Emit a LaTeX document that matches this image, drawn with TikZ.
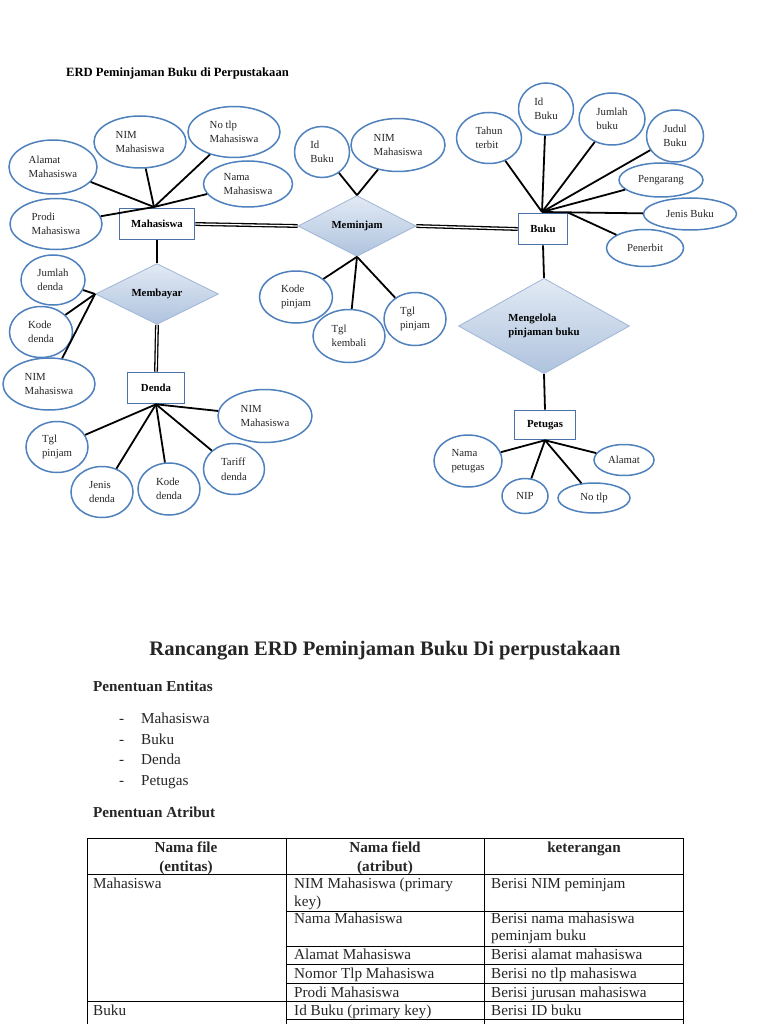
\documentclass[tikz,border=0pt]{standalone}
\usepackage{fontspec}
\setmainfont{Liberation Serif}
\usepackage{xcolor}
\usetikzlibrary{shapes.geometric}

\definecolor{attrblue}{HTML}{4F81BD}
\definecolor{boxblue}{HTML}{4A72A8}
\definecolor{reltop}{HTML}{E2EAF4}
\definecolor{relbot}{HTML}{AFC3DE}
\definecolor{reledge}{HTML}{9FB6D6}
\definecolor{txtgray}{HTML}{262626}

\newcommand{\lblfont}{\fontsize{10.8}{14.5}\selectfont}
\newcommand{\judulfont}{\fontsize{12.6}{15}\selectfont\bfseries}
\newcommand{\rancanganfont}{\fontsize{20.6}{24}\selectfont\bfseries}
\newcommand{\bodyfont}{\fontsize{15.2}{18}\selectfont}

\tikzset{
	attr/.style={ellipse, draw=attrblue, line width=1.5pt, fill=white, inner sep=0pt, align=left, text=txtgray, font=\lblfont},
	ent/.style={rectangle, draw=boxblue, line width=1.6pt, fill=white, inner sep=0pt, minimum height=31, font=\lblfont\bfseries},
	rel/.style={diamond, draw=reledge, line width=0.8pt, top color=reltop, bottom color=relbot, inner sep=0pt, align=left, font=\lblfont\bfseries},
	link/.style={line width=1.8pt},
	dlink/.style={line width=1.3pt, double=white, double distance=1.3pt},
	body/.style={inner sep=0pt, anchor=base west, font=\bodyfont, text=txtgray},
	head/.style={inner sep=0pt, anchor=base, font=\bodyfont\bfseries, text=txtgray},
	tabline/.style={line width=0.9pt},
}

\begin{document}
\begin{tikzpicture}[x=1pt,y=-1pt]
	%\draw[help lines] (0,0) grid[step=50] (768,1024);
	\fill[white] (0,0) rectangle (768,1024);
	\useasboundingbox (0,0) rectangle (768,1024);

	\node[anchor=base west, inner sep=0pt, font=\judulfont] (judul) at (66,77) {ERD Peminjaman Buku di Perpustakaan};

	% entitas
	\node[ent, minimum width=75] (mhs) at (157,224) {Mahasiswa};
	\node[ent, minimum width=49] (buku) at (543,229) {Buku};
	\node[ent, minimum width=57] (denda) at (156,388) {Denda};
	\node[ent, minimum width=61, minimum height=29] (ptg) at (545,425) {Petugas};

	% relasi
	\node[rel, minimum width=118, minimum height=42] (pinjam) at (357,226) {Meminjam};
	\node[rel, minimum width=123, minimum height=45] (bayar) at (157,294) {Membayar};
	\node[rel, minimum width=171, minimum height=71] (kelola) at (544,326) {Mengelola\\pinjaman buku};

	% atribut mahasiswa
	\node[attr, minimum width=88, minimum height=54] (alamatM) at (53,167) {Alamat\\Mahasiswa};
	\node[attr, minimum width=92, minimum height=52] (nimM) at (140,142) {NIM\\Mahasiswa};
	\node[attr, minimum width=92, minimum height=51] (tlpM) at (234,132) {No tlp\\Mahasiswa};
	\node[attr, minimum width=89, minimum height=46] (namaM) at (248,184) {Nama\\Mahasiswa};
	\node[attr, minimum width=92, minimum height=51] (prodiM) at (56,224) {Prodi\\Mahasiswa};

	% atribut meminjam
	\node[attr, minimum width=55, minimum height=51] (idP) at (322,152) {Id\\Buku};
	\node[attr, minimum width=94, minimum height=53] (nimP) at (398,145) {NIM\\Mahasiswa};
	\node[attr, minimum width=73, minimum height=52] (kodeP) at (296,297) {Kode\\pinjam};
	\node[attr, minimum width=72, minimum height=53] (kembaliP) at (349,336) {Tgl\\kembali};
	\node[attr, minimum width=62, minimum height=53] (tglP) at (415,319) {Tgl\\pinjam};

	% atribut buku
	\node[attr, minimum width=65, minimum height=51] (tahunB) at (489,138) {Tahun\\terbit};
	\node[attr, minimum width=55, minimum height=52] (idB) at (546,109) {Id\\Buku};
	\node[attr, minimum width=66, minimum height=52] (jumlahB) at (612,119) {Jumlah\\buku};
	\node[attr, minimum width=57, minimum height=52] (judulB) at (675,136) {Judul\\Buku};
	\node[attr, minimum width=84, minimum height=34] (pengarangB) at (661,180) {Pengarang};
	\node[attr, minimum width=93, minimum height=32] (jenisB) at (690,214) {Jenis Buku};
	\node[attr, minimum width=77, minimum height=37] (penerbitB) at (645,248) {Penerbit};

	% atribut membayar
	\node[attr, minimum width=64, minimum height=50] (jumlahD) at (53,280) {Jumlah\\denda};
	\node[attr, minimum width=63, minimum height=51] (kodeY) at (41,332) {Kode\\denda};
	\node[attr, minimum width=92, minimum height=52] (nimY) at (49,384) {NIM\\Mahasiswa};

	% atribut denda
	\node[attr, minimum width=62, minimum height=51] (tglD) at (57,447) {Tgl\\pinjam};
	\node[attr, minimum width=62, minimum height=51] (jenisD) at (102,492) {Jenis\\denda};
	\node[attr, minimum width=62, minimum height=52] (kodeD) at (169,489) {Kode\\denda};
	\node[attr, minimum width=61, minimum height=51] (tarifD) at (234,469) {Tariff\\denda};
	\node[attr, minimum width=94, minimum height=53] (nimD) at (265,416) {NIM\\Mahasiswa};

	% atribut petugas
	\node[attr, minimum width=68, minimum height=52] (namaT) at (468,461) {Nama\\petugas};
	\node[attr, minimum width=46, minimum height=35] (nipT) at (525,496) {NIP};
	\node[attr, minimum width=72, minimum height=30] (tlpT) at (594,498) {No tlp};
	\node[attr, minimum width=60, minimum height=31] (alamatT) at (624,460) {Alamat};

	\coordinate (mhsC) at (154,207);
	\coordinate (bukuC) at (542,212);

	\foreach \a in {alamatM,nimM,tlpM,namaM,prodiM}
		\draw[link] (\a) -- (mhsC);
	\foreach \a in {idP,nimP}
		\draw[link] (\a) -- (pinjam.north);
	\foreach \a in {kodeP,kembaliP,tglP}
		\draw[link] (\a) -- (pinjam.south);
	\foreach \a in {tahunB,idB,jumlahB,judulB,pengarangB,jenisB}
		\draw[link] (\a) -- (bukuC);
	\draw[link] (penerbitB) -- (buku.north east);
	\foreach \a in {jumlahD,kodeY,nimY}
		\draw[link] (\a) -- (bayar.west);
	\foreach \a in {tglD,jenisD,kodeD,tarifD,nimD}
		\draw[link] (\a) -- (denda.south);
	\foreach \a in {namaT,nipT,tlpT,alamatT}
		\draw[link] (\a) -- (ptg.south);

	\draw[link] (mhs.south) -- (bayar.north);
	\draw[link] (buku.south) -- (kelola.north);
	\draw[link] (kelola.south) -- (ptg.north);
	\draw[dlink] (mhs.east) -- (pinjam.west);
	\draw[dlink] (pinjam.east) -- (buku.west);
	\draw[dlink] (bayar.south) -- (denda.north);

	% rancangan
	\node[anchor=base, inner sep=0pt, font=\rancanganfont, text=txtgray] (rancangan) at (385,655) {Rancangan ERD Peminjaman Buku Di perpustakaan};
	\node[body, font=\bodyfont\bfseries] (entitas) at (93,691) {Penentuan Entitas};
	\foreach \nm/\yy in {Mahasiswa/723,Buku/744,Denda/764,Petugas/785}{
		\node[body] (dash\nm) at (119,\yy) {-};
		\node[body] (ent\nm) at (141,\yy) {\nm};
	}
	\node[body, font=\bodyfont\bfseries] (atribut) at (93,817) {Penentuan Atribut};

	% tabel
	\draw[tabline] (87,1024) -- (87,838) -- (683,838) -- (683,1024);
	\draw[tabline] (286,838) -- (286,1024);
	\draw[tabline] (484,838) -- (484,1024);
	\draw[tabline] (87,874) -- (683,874);
	\draw[tabline] (87,1001) -- (683,1001);
	\foreach \yy in {911,946,964,983,1019}
		\draw[tabline] (286,\yy) -- (683,\yy);

	\node[head] (h1a) at (186,852) {Nama file};
	\node[head] (h1b) at (186,871) {(entitas)};
	\node[head] (h2a) at (385,852) {Nama field};
	\node[head] (h2b) at (385,871) {(atribut)};
	\node[head] (h3) at (584,852) {keterangan};

	\node[body] (c1) at (93,888) {Mahasiswa};
	\node[body] (c2a) at (294,888) {NIM Mahasiswa (primary};
	\node[body] (c2b) at (294,906) {key)};
	\node[body] (c3) at (491,888) {Berisi NIM peminjam};
	\node[body] (c4) at (294,923) {Nama Mahasiswa};
	\node[body] (c5a) at (491,923) {Berisi nama mahasiswa};
	\node[body] (c5b) at (491,940) {peminjam buku};
	\node[body] (c6) at (294,959) {Alamat Mahasiswa};
	\node[body] (c7) at (491,959) {Berisi alamat mahasiswa};
	\node[body] (c8) at (294,978) {Nomor Tlp Mahasiswa};
	\node[body] (c9) at (491,978) {Berisi no tlp mahasiswa};
	\node[body] (c10) at (294,997) {Prodi Mahasiswa};
	\node[body] (c11) at (491,997) {Berisi jurusan mahasiswa};
	\node[body] (c12) at (93,1015) {Buku};
	\node[body] (c13) at (294,1015) {Id Buku (primary key)};
	\node[body] (c14) at (491,1015) {Berisi ID buku};
\end{tikzpicture}
\end{document}
